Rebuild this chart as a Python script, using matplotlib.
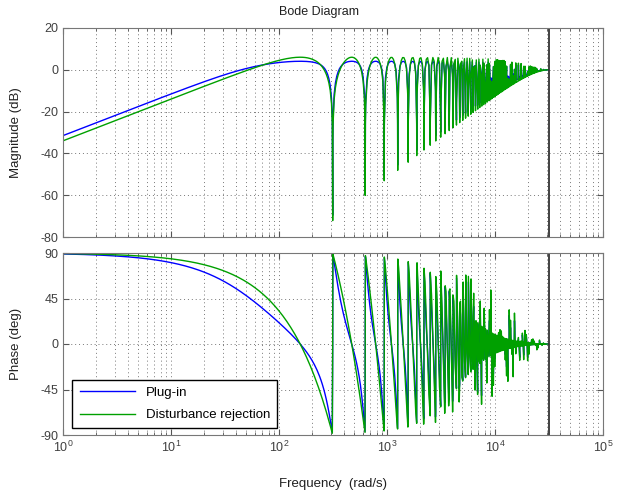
import numpy as np
import matplotlib
matplotlib.use("Agg")
import matplotlib.pyplot as plt
from matplotlib.ticker import LogLocator, FixedLocator, NullFormatter, LogFormatterSciNotation

plt.rcParams['font.family'] = ['Liberation Sans', 'DejaVu Sans']
plt.rcParams['mathtext.fontset'] = 'custom'
plt.rcParams['mathtext.rm'] = 'Liberation Sans'
plt.rcParams['axes.unicode_minus'] = False

# discrete repetitive controller, 50 Hz reference, 10 kHz sampling
Ts = 1e-4                    # sample time (s)
n_delay = 200                # samples per repetition period
q_taps = [0.25, 0.5, 0.25]   # zero-phase low-pass Q(z) = (z + 2 + z^-1)/4
plugin_weight = 0.25         # feedback weight of the plug-in structure

# frequency grid: log spaced, plus points on and around each notch
points_per_decade = 82
notch_offsets = [2.5]        # rad/s either side of each harmonic

series_names = ["Plug-in", "Disturbance rejection"]
series_colors = ["#0000ff", "#00a000"]

mag_ticks = [-80, -60, -40, -20, 0, 20]
phase_ticks = [-90, -45, 0, 45, 90]


def freq_grid():
    w_nyq = np.pi / Ts
    n = int(round(np.log10(w_nyq) * points_per_decade)) + 1
    parts = [np.logspace(0, np.log10(w_nyq), n)]
    w0 = 2 * np.pi / (n_delay * Ts)
    harmonics = w0 * np.arange(1, int(w_nyq / w0) + 1)
    parts.append(harmonics)
    for off in notch_offsets:
        parts.append(harmonics - off)
        parts.append(harmonics + off)
    w = np.unique(np.concatenate(parts))
    return w[(w >= 1) & (w <= w_nyq)]


def responses(w):
    z = np.exp(1j * w * Ts)
    q = q_taps[0] * z + q_taps[1] + q_taps[2] / z
    d = q * z ** (-n_delay)
    dist_rej = 1 - d
    plugin = (1 - d) / (1 - plugin_weight * d)
    return [plugin, dist_rej]


def style_axes(ax):
    ax.set_xscale('log')
    ax.set_xlim(1, 1e5)
    ax.xaxis.set_major_locator(LogLocator(base=10, numticks=10))
    ax.xaxis.set_minor_locator(LogLocator(base=10, subs=np.arange(2, 10), numticks=10))
    ax.tick_params(which='both', direction='in', top=True, right=True,
                   colors='#555555', labelcolor='#404040', labelsize=9)
    ax.tick_params(which='major', length=4)
    ax.tick_params(which='minor', length=2)
    for sp in ax.spines.values():
        sp.set_color('#777777')
        sp.set_linewidth(0.8)
    ax.grid(True, which='major', linestyle=(0, (1, 3)), color='#777777', linewidth=0.7)
    ax.grid(True, which='minor', axis='x', linestyle=(0, (1, 3)), color='#777777', linewidth=0.7)
    ax.axvline(np.pi / Ts, color='#333333', linewidth=1.3)


def main():
    w = freq_grid()
    resp = responses(w)

    fig = plt.figure(figsize=(6.38, 4.95), dpi=100)
    W, H = 638, 495
    ax1 = fig.add_axes([63 / W, 1 - 237 / H, 540 / W, 209 / H])
    ax2 = fig.add_axes([63 / W, 1 - 435 / H, 540 / W, 182 / H])

    for r, name, color in zip(resp, series_names, series_colors):
        ax1.plot(w, 20 * np.log10(np.abs(r)), color=color, linewidth=1.0, label=name)
        ax2.plot(w, np.degrees(np.angle(r)), color=color, linewidth=1.0, label=name)

    style_axes(ax1)
    style_axes(ax2)

    ax1.set_ylim(-80, 20)
    ax1.yaxis.set_major_locator(FixedLocator(mag_ticks))
    ax1.xaxis.set_major_formatter(NullFormatter())
    ax1.set_ylabel("Magnitude (dB)", fontsize=9.5, color='#202020')
    ax1.yaxis.set_label_coords(-0.076, 0.5)

    ax2.set_ylim(-90, 90)
    ax2.yaxis.set_major_locator(FixedLocator(phase_ticks))
    ax2.xaxis.set_major_formatter(LogFormatterSciNotation())
    ax2.set_ylabel("Phase (deg)", fontsize=9.5, color='#202020')
    ax2.yaxis.set_label_coords(-0.076, 0.5)
    ax2.set_xlabel("Frequency  (rad/s)", fontsize=9.5, color='#202020')
    ax2.xaxis.set_label_coords(0.5, -0.235)

    leg = ax2.legend(loc='lower left', bbox_to_anchor=(0.005, 0.0), fontsize=9.5,
                     fancybox=False, framealpha=1, edgecolor='black',
                     handlelength=4.2, borderpad=0.55, labelspacing=0.75)
    leg.get_frame().set_linewidth(1.0)

    fig.text(0.5, 1 - 12 / H, "Bode Diagram", ha='center', va='center',
             fontsize=9, color='#202020')

    fig.savefig("out.png", dpi=100)


if __name__ == "__main__":
    main()
